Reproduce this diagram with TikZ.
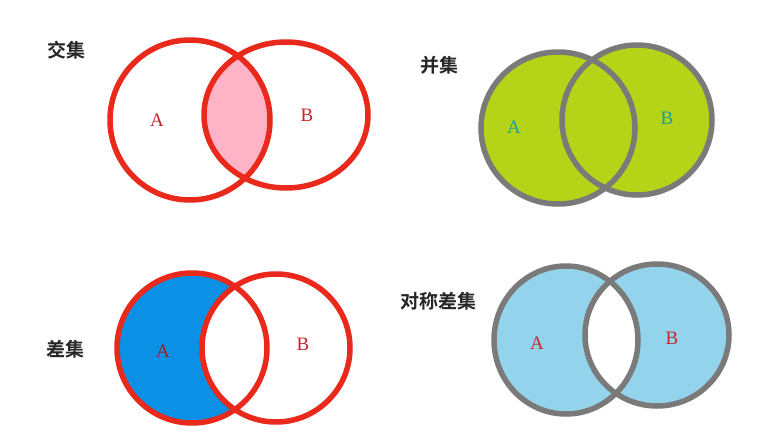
\documentclass[tikz,border=0pt]{standalone}
\usepackage{fontspec}
\setmainfont{Liberation Serif}
\newfontfamily\cjk{Noto Sans CJK SC Bold}
\definecolor{ringred}{HTML}{E8291C}
\definecolor{ringgray}{HTML}{7A7A7A}
\definecolor{pinkfill}{HTML}{FFB3C6}
\definecolor{limefill}{HTML}{B5D418}
\definecolor{bluefill}{HTML}{0A90E4}
\definecolor{skyfill}{HTML}{93D3EB}
\definecolor{labred}{HTML}{C8262E}
\definecolor{labteal}{HTML}{1A9E9C}
\tikzset{
  redring/.style={draw=ringred, line width=5.5pt},
  grayring/.style={draw=ringgray, line width=5.5pt},
  title/.style={font=\cjk\fontsize{19}{19}\selectfont, text=black!85},
  setname/.style={font=\fontsize{19}{19}\selectfont, text=labred}
}

\begin{document}
\begin{tikzpicture}[x=1pt, y=-1pt]
\useasboundingbox[fill=white] (0,0) rectangle (777,442);
\node[title] (tinter) at (66,50) {交集};
\begin{scope}
  \clip (190,120) ellipse [x radius=80pt, y radius=80pt];
  \fill[pinkfill] (286,115) ellipse [x radius=82pt, y radius=73pt];
\end{scope}
\draw[redring] (190,120) ellipse [x radius=80pt, y radius=80pt];
\draw[redring] (286,115) ellipse [x radius=82pt, y radius=73pt];
\node[setname] (ia) at (157,120) {A};
\node[setname] (ib) at (307,115) {B};

\node[title] (tunion) at (439,65) {并集};
\fill[limefill] (558,128) ellipse [x radius=77pt, y radius=76pt];
\fill[limefill] (637,120) ellipse [x radius=75pt, y radius=75pt];
\draw[grayring] (558,128) ellipse [x radius=77pt, y radius=76pt];
\draw[grayring] (637,120) ellipse [x radius=75pt, y radius=75pt];
\node[setname, text=labteal] (ua) at (514,127) {A};
\node[setname, text=labteal] (ub) at (667,118) {B};

\node[title] (tdiff) at (65,349) {差集};
\begin{scope}
  \clip (192,348) ellipse [x radius=75pt, y radius=75pt];
  \fill[bluefill, even odd rule] (192,348) ellipse [x radius=75pt, y radius=75pt]
    (276,348) ellipse [x radius=74pt, y radius=74pt];
\end{scope}
\draw[redring] (192,348) ellipse [x radius=75pt, y radius=75pt];
\draw[redring] (276,348) ellipse [x radius=74pt, y radius=74pt];
\node[setname, text=labred!80!black] (da) at (163,351) {A};
\node[setname] (db) at (303,344) {B};

\node[title] (tsym) at (438,301) {对称差集};
\fill[skyfill, even odd rule] (566,340) ellipse [x radius=72pt, y radius=74pt]
  (657,335) ellipse [x radius=72pt, y radius=71pt];
\draw[grayring] (566,340) ellipse [x radius=72pt, y radius=74pt];
\draw[grayring] (657,335) ellipse [x radius=72pt, y radius=71pt];
\node[setname] (sa) at (537,343) {A};
\node[setname] (sb) at (672,338) {B};
\end{tikzpicture}
\end{document}
